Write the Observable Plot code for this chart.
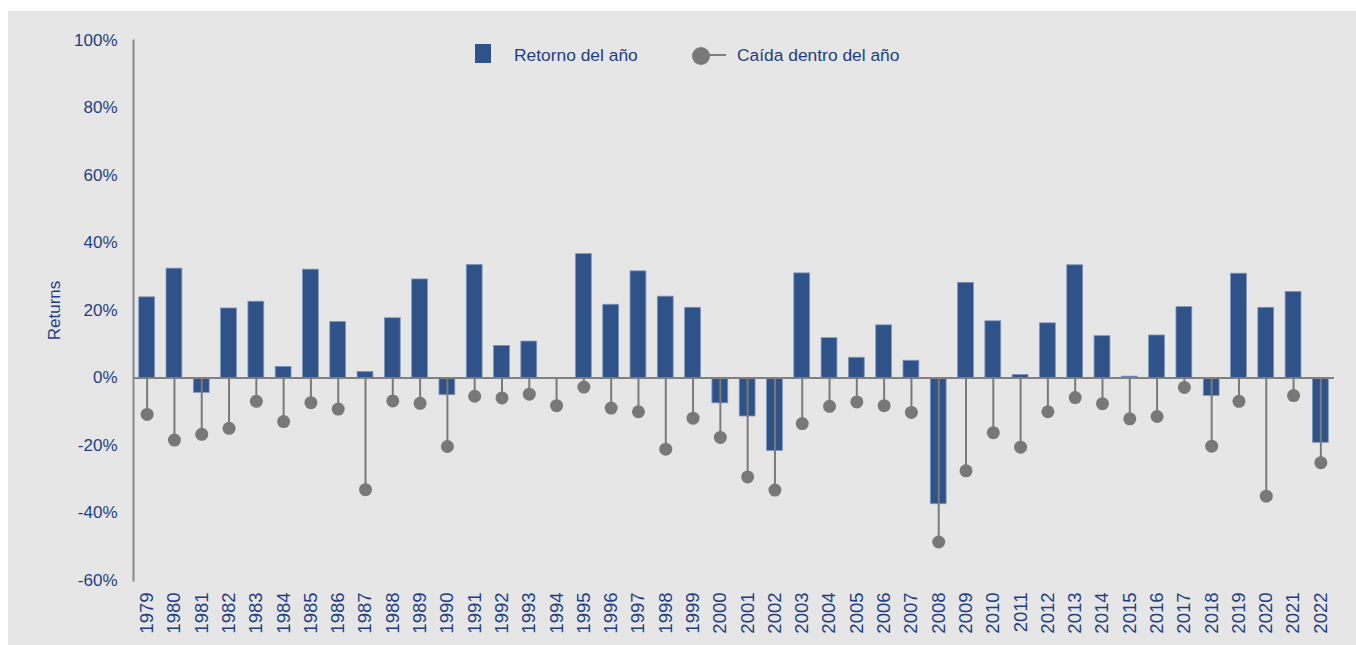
<!DOCTYPE html>
<html>
<head>
<meta charset="utf-8">
<script src="https://cdn.jsdelivr.net/npm/d3@7"></script>
<script src="https://cdn.jsdelivr.net/npm/@observablehq/plot@0.6"></script>
<style>
  html, body { margin: 0; padding: 0; background: #ffffff; }
  #wrap { position: relative; width: 1356px; height: 645px; overflow: hidden; font-family: "Liberation Sans", Arial, sans-serif; }
  #bg { position: absolute; left: 8px; top: 11px; right: 0; bottom: 0; background: #e6e6e6; }
  #chart { position: absolute; left: 0; top: 0; }
  .leg { position: absolute; font-size: 17.4px; line-height: 20px; color: #1f3e82; white-space: nowrap; }
</style>
</head>
<body>
<div id="wrap">
  <div id="bg"></div>
  <div id="chart"></div>
  <div style="position:absolute;left:475px;top:44px;width:16px;height:19px;background:#2f5289;"></div>
  <div class="leg" style="left:514px;top:45px;">Retorno del año</div>
  <div style="position:absolute;left:701px;top:54px;width:25px;height:2px;background:#7f7f7f;"></div>
  <div style="position:absolute;left:692px;top:47px;width:18px;height:18px;border-radius:50%;background:#787878;"></div>
  <div class="leg" style="left:737px;top:45px;">Caída dentro del año</div>
</div>
<script>
const years = ["1979","1980","1981","1982","1983","1984","1985","1986","1987","1988","1989","1990","1991","1992","1993","1994","1995","1996","1997","1998","1999","2000","2001","2002","2003","2004","2005","2006","2007","2008","2009","2010","2011","2012","2013","2014","2015","2016","2017","2018","2019","2020","2021","2022"];
const annualReturns = [23.9, 32.4, -4.4, 20.6, 22.6, 3.3, 32.1, 16.6, 1.8, 17.7, 29.2, -5.1, 33.5, 9.5, 10.8, 0, 36.7, 21.7, 31.6, 24.1, 20.8, -7.5, -11.4, -21.6, 31.0, 11.8, 6.0, 15.6, 5.1, -37.4, 28.2, 16.8, 0.9, 16.2, 33.4, 12.4, 0.4, 12.6, 21.0, -5.3, 30.9, 20.8, 25.5, -19.2];
const intraYearDrops = [-10.8, -18.4, -16.7, -14.9, -6.9, -12.9, -7.3, -9.2, -33.1, -6.8, -7.5, -20.3, -5.4, -5.9, -4.8, -8.2, -2.7, -8.9, -10.0, -21.1, -11.9, -17.6, -29.3, -33.2, -13.5, -8.4, -7.1, -8.2, -10.2, -48.6, -27.5, -16.2, -20.5, -10.0, -5.8, -7.6, -12.1, -11.4, -2.8, -20.2, -6.9, -35.0, -5.2, -25.1];
const yTicks = [-60, -40, -20, 0, 20, 40, 60, 80, 100];

const data = years.map((year, i) => ({year, ret: annualReturns[i], drop: intraYearDrops[i]}));
const textColor = "#1f3e82";

const chart = Plot.plot({
  width: 1356,
  height: 645,
  marginLeft: 133,
  marginRight: 22,
  marginTop: 40,
  marginBottom: 65,
  style: {background: "transparent", fontFamily: "'Liberation Sans', Arial, sans-serif", color: textColor},
  x: {type: "band", domain: years, paddingInner: 0.42, paddingOuter: 0.21, round: false},
  y: {domain: [-60, 100]},
  marks: [
    Plot.barY(data, {x: "year", y: "ret", fill: "#2f5289", stroke: "#7f95bd", strokeWidth: 0.8}),
    Plot.ruleY([0], {stroke: "#808080", strokeWidth: 2}),
    Plot.ruleX(data, {x: "year", y1: 0, y2: "drop", stroke: "#7a7a7a", strokeWidth: 2}),
    Plot.dot(data, {x: "year", y: "drop", r: 6.5, fill: "#787878", stroke: "none"}),
    Plot.frame({anchor: "left", stroke: "#888888", strokeWidth: 2}),
    Plot.axisY({ticks: yTicks, tickSize: 0, tickPadding: 16, fontSize: 17, fill: textColor,
      tickFormat: d => d + "%", label: "Returns", labelAnchor: "center", labelArrow: "none", labelOffset: 86}),
    Plot.axisX({tickRotate: -90, tickSize: 0, tickPadding: 12, fontSize: 18.5, fill: textColor, label: null})
  ]
});
document.getElementById("chart").appendChild(chart);
</script>
</body>
</html>
